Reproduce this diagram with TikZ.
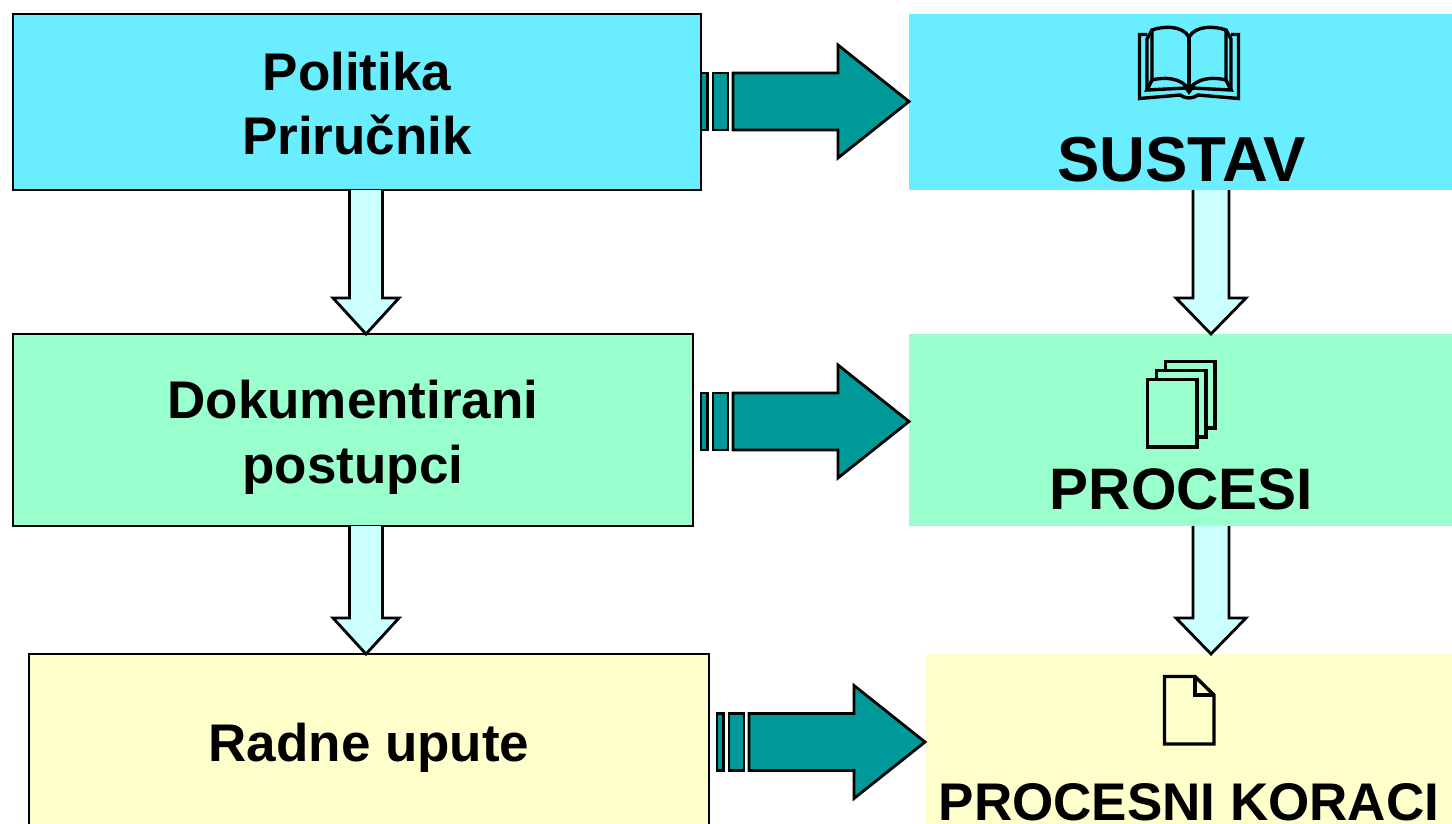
\documentclass[tikz,border=0pt]{standalone}
\usepackage{fontspec}
\setmainfont{Liberation Sans}[BoldFont={Liberation Sans Bold}]
\usetikzlibrary{calc}
\definecolor{cyanbox}{HTML}{69EDFF}
\definecolor{greenbox}{HTML}{99FFCC}
\definecolor{yellowbox}{HTML}{FFFFCC}
\definecolor{palearrow}{HTML}{CCFFFF}
\definecolor{tealarrow}{HTML}{009999}
\newcommand{\fsz}[1]{\fontsize{#1}{#1}\selectfont\bfseries}
\tikzset{
  leftbox/.style={draw=black,line width=2.8pt,outer sep=0pt,inner sep=0pt,align=center,font=\fsz{53}},
  rightbox/.style={outer sep=0pt,inner sep=0pt},
  bigtext/.style={inner sep=0pt,outer sep=0pt,text=black},
  palearr/.style={draw=black,fill=palearrow,line width=2.8pt,line join=miter},
  tealarr/.style={draw=black,fill=tealarrow,line width=2.8pt,line join=miter},
  icon/.style={draw=black,line width=3.4pt,line join=miter},
}
\newcommand{\downblock}[5]{%
  \coordinate (s) at (#3,0 |- #1.south);
  \coordinate (e) at (#3,0 |- #2.north);
  \draw[palearr] ($(s)+(-#4,0)$) -- ($(e)+(-#4,-36)$) -- ($(e)+(-#5,-36)$) -- (e)
     -- ($(e)+(#5,-36)$) -- ($(e)+(#4,-36)$) -- ($(s)+(#4,0)$);
}
\newcommand{\rightblock}[2]{%
  \coordinate (e) at (#1.west |- 0,#2);
  \draw[tealarr] ($(e)+(-208,-28.5)$) rectangle ($(e)+(-201.5,28.5)$);
  \draw[tealarr] ($(e)+(-196,-28.5)$) rectangle ($(e)+(-181,28.5)$);
  \draw[tealarr] ($(e)+(-176,-28.5)$) -- ($(e)+(-71,-28.5)$) -- ($(e)+(-71,-56.5)$) -- (e)
     -- ($(e)+(-71,56.5)$) -- ($(e)+(-71,28.5)$) -- ($(e)+(-176,28.5)$) -- cycle;
}
\begin{document}
\begin{tikzpicture}[x=1pt,y=-1pt]
\useasboundingbox (0,0) rectangle (1452,823);
\clip (0,0) rectangle (1452,823);
% right-hand panels
\node[rightbox,fill=cyanbox,minimum width=543pt,minimum height=176pt] (sustav) at (1180.5,102) {};
\node[rightbox,fill=greenbox,minimum width=543pt,minimum height=192pt] (procesi) at (1180.5,430) {};
\node[rightbox,fill=yellowbox,minimum width=527pt,minimum height=176pt] (koraci) at (1188.5,742) {};
% left-hand boxes
\node[leftbox,fill=cyanbox,minimum width=688pt,minimum height=176pt] (politika) at (357,102) {\rule{0pt}{42pt}Politika\\[11.5pt]Priručnik};
\node[leftbox,fill=greenbox,minimum width=680pt,minimum height=192pt] (dok) at (353,430) {\rule{0pt}{53pt}Dokumentirani\\[12pt]postupci};
\node[leftbox,fill=yellowbox,minimum width=680pt,minimum height=176pt] (radne) at (369,742) {\rule{0pt}{49pt}Radne upute};
% pale connectors
\downblock{politika}{dok}{366}{16.5}{33}
\downblock{dok}{radne}{366}{16.5}{33}
\downblock{sustav}{procesi}{1211}{18}{35}
\downblock{procesi}{koraci}{1211}{18}{35}
% teal connectors
\rightblock{sustav}{101.5}
\rightblock{procesi}{421.5}
\rightblock{koraci}{742}
% right-hand labels
\node[bigtext,font=\fsz{63.5}] (tsustav) at (1181.5,160) {SUSTAV};
\node[bigtext,font=\fsz{58.5}] (tprocesi) at (1181.5,489) {PROCESI};
\node[bigtext,font=\fsz{53}] (tkoraci) at (1189,802) {PROCESNI KORACI};
% book icon
\draw[icon] (1152,30) .. controls (1163,26) and (1182,25) .. (1189,37)
  .. controls (1196,25) and (1215,26) .. (1226,30) -- (1226,80)
  .. controls (1215,77) and (1196,77) .. (1189,90)
  .. controls (1182,77) and (1163,77) .. (1152,80) -- cycle;
\draw[icon] (1189,37) -- (1189,90);
\draw[icon] (1152,30) -- (1147,39) -- (1147,90);
\draw[icon] (1226,30) -- (1231,39) -- (1231,90);
\draw[icon] (1152,80) -- (1147,90) -- (1186,88) -- (1189,92) -- (1192,88) -- (1231,90) -- (1226,80);
\draw[icon] (1147,34.5) -- (1139.5,34.5) -- (1139.5,98.5) -- (1180,95) .. controls (1186,99) and (1192,99) .. (1198,95) -- (1238.5,98.5) -- (1238.5,34.5) -- (1231,34.5);
% pages icon
\draw[icon] (1165.5,370) -- (1165.5,361.5) -- (1215,361.5) -- (1215,428) -- (1206,428);
\draw[icon] (1156.5,379) -- (1156.5,370.5) -- (1206,370.5) -- (1206,437) -- (1197,437);
\draw[icon] (1147.5,379.5) rectangle (1197,447);
% single page icon
\draw[icon] (1164.5,676.5) -- (1195,676.5) -- (1214,695) -- (1214,744) -- (1164.5,744) -- cycle;
\draw[icon] (1195,676.5) -- (1195,695) -- (1214,695);
\end{tikzpicture}
\end{document}
